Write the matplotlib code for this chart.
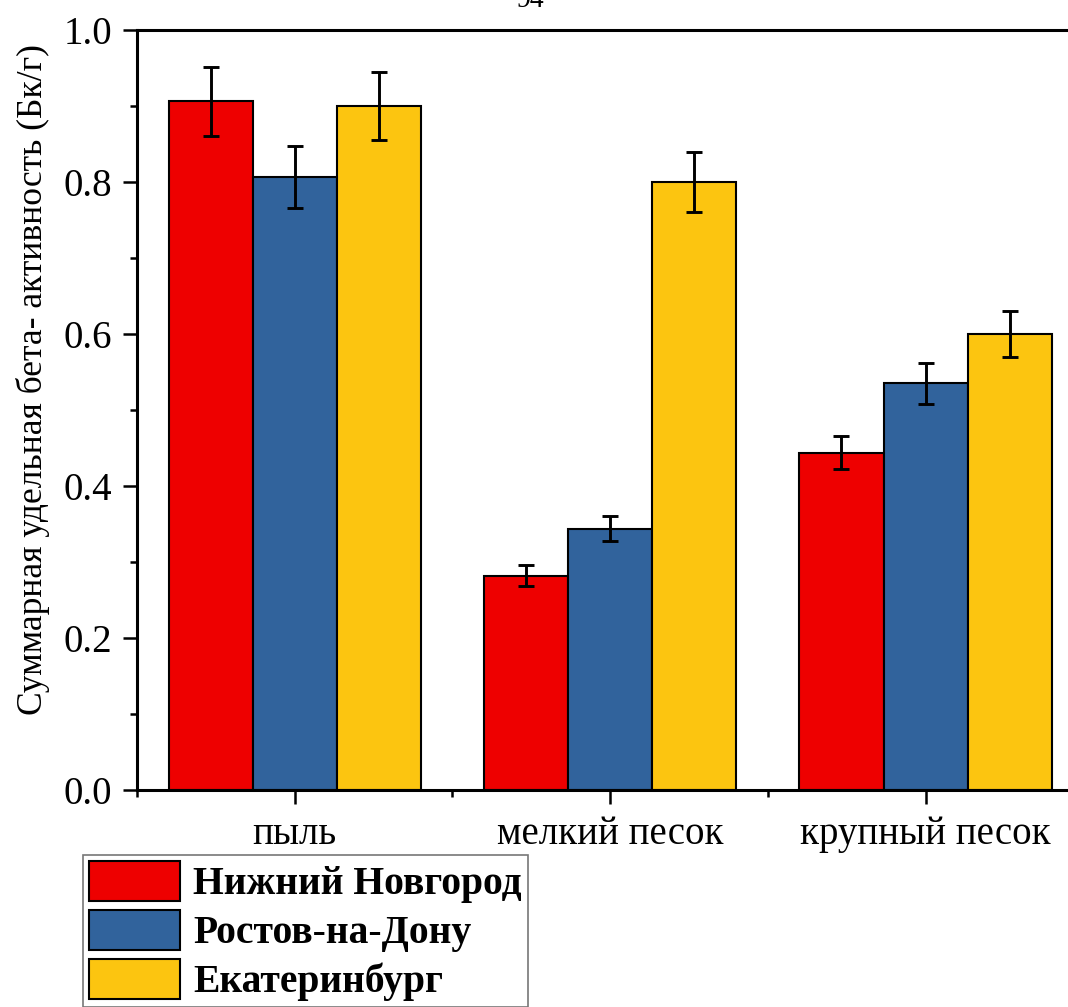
import numpy as np
import matplotlib
matplotlib.use('Agg')
import matplotlib.pyplot as plt
from matplotlib.ticker import MultipleLocator, FixedLocator

plt.rcParams['font.family'] = ['Liberation Serif', 'DejaVu Serif']

categories = ['пыль', 'мелкий песок', 'крупный песок']
cities = ['Нижний Новгород', 'Ростов-на-Дону', 'Екатеринбург']

nn_vals = [0.906, 0.282, 0.444]
nn_err = [0.045, 0.014, 0.022]
rnd_vals = [0.807, 0.344, 0.535]
rnd_err = [0.041, 0.017, 0.027]
ekb_vals = [0.900, 0.800, 0.600]
ekb_err = [0.045, 0.040, 0.030]

colors = ['#EE0000', '#31639C', '#FCC510']

fig = plt.figure(figsize=(10.68, 10.07), dpi=100)
# axes run past the right edge of the figure on purpose
ax = fig.add_axes([0.1283, 0.2155, 0.886, 0.7547])

x = np.arange(len(categories))
w = 0.8 / 3
series = [(nn_vals, nn_err), (rnd_vals, rnd_err), (ekb_vals, ekb_err)]
for i, (vals, errs) in enumerate(series):
    ax.bar(x + (i - 1) * w, vals, width=w, color=colors[i], edgecolor='black',
           linewidth=1.5, label=cities[i], zorder=2,
           yerr=errs, capsize=6,
           error_kw=dict(elinewidth=2.1, capthick=2.1, ecolor='black'))

ax.set_xlim(-0.5, 2.5)
ax.set_ylim(0, 1.0)

ax.set_xticks(x)
ax.set_xticklabels(categories)
ax.xaxis.set_minor_locator(FixedLocator([-0.5, 0.5, 1.5, 2.5]))
ax.yaxis.set_major_locator(MultipleLocator(0.2))
ax.yaxis.set_minor_locator(MultipleLocator(0.1))
ax.yaxis.set_major_formatter(matplotlib.ticker.FormatStrFormatter('%.1f'))

ax.tick_params(axis='both', which='major', direction='out', length=10,
               width=1.8, labelsize=28, pad=8)
ax.tick_params(axis='both', which='minor', direction='out', length=4.7,
               width=1.8)
ax.tick_params(axis='x', which='major', pad=9)

for s in ax.spines.values():
    s.set_linewidth(2.2)

fig.text(33 / 1068, 1 - 380 / 1007,
         'Суммарная удельная бета- активность (Бк/г)',
         rotation=90, ha='center', va='center', fontsize=25.6)

# page number at the very top
fig.text(530 / 1068, 1 - 7 / 1007, '94', ha='center', va='baseline',
         fontsize=20)

leg = fig.legend(loc='upper left', bbox_to_anchor=(83 / 1068, 1 - 855 / 1007),
                 prop=dict(weight='bold', size=28.5), frameon=True,
                 fancybox=False, edgecolor='#555555', borderpad=0.14,
                 handlelength=2.32, handleheight=1.2, handletextpad=0.33,
                 labelspacing=0.16, borderaxespad=0)
leg.get_frame().set_linewidth(1.2)

fig.savefig('out.png', dpi=100)
